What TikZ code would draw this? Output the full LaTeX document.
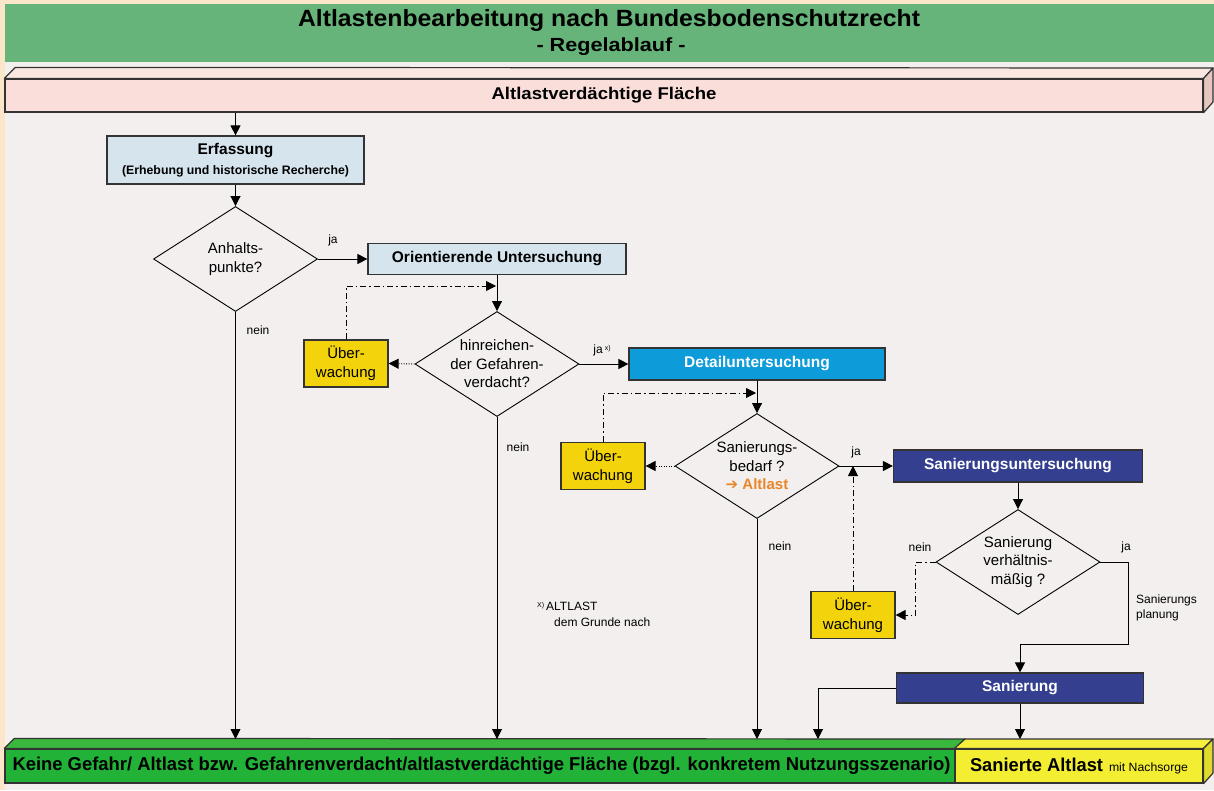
\documentclass[tikz,border=0pt]{standalone}
\usepackage{fontspec}
\setmainfont{Liberation Sans}
\newfontfamily\symfont{DejaVu Sans}
\usetikzlibrary{shapes.geometric,arrows.meta}

% squeeze a piece of text horizontally to a given width (in pt)
\newsavebox\fitbox
\newcommand\fitw[2]{\sbox\fitbox{#2}\pgfmathsetmacro\fitratio{#1/\the\wd\fitbox}\scalebox{\fitratio}[1]{\usebox\fitbox}}

\definecolor{outer}{HTML}{FCE6CA}
\definecolor{titlegreen}{HTML}{66B47A}
\definecolor{bodygray}{HTML}{F2EFEE}
\definecolor{pinkfront}{HTML}{FADEDA}
\definecolor{pinktop}{HTML}{FBE7E2}
\definecolor{pinkside}{HTML}{E6C6BE}
\definecolor{lightblue}{HTML}{D6E4EE}
\definecolor{uegold}{HTML}{F2D30C}
\definecolor{detailblue}{HTML}{0D9BDA}
\definecolor{darkblue}{HTML}{343F8F}
\definecolor{greenfront}{HTML}{22B238}
\definecolor{greentop}{HTML}{3AB83E}
\definecolor{yellowfront}{HTML}{F4EE33}
\definecolor{yellowtop}{HTML}{F6EF3C}
\definecolor{yellowside}{HTML}{E0DA2C}
\definecolor{boxline}{HTML}{333333}
\definecolor{altorange}{HTML}{E8862A}

\tikzset{
  arr/.style={-{Triangle[length=10pt,width=10pt]}, line width=0.9pt, draw=black},
  dd/.style={arr, dash pattern=on 6pt off 3pt on 1.5pt off 3pt},
  dt/.style={arr, dash pattern=on 1pt off 1.5pt},
  face/.style={draw=boxline, line width=1.2pt, line join=round},
  stepbox/.style={draw=boxline, line width=1.2pt, inner sep=0pt},
  bluebox/.style={stepbox, fill=lightblue, font=\bfseries\fontsize{15.5}{20}\selectfont},
  darkbox/.style={stepbox, fill=darkblue, text=white, font=\bfseries\fontsize{15.5}{20}\selectfont},
  uebox/.style={stepbox, fill=uegold, minimum width=84pt, minimum height=47pt, align=center,
                font=\fontsize{15}{19}\selectfont},
  % negative inner sep keeps the text from enlarging the diamond beyond its set size
  dia/.style={diamond, draw=black, line width=0.9pt, minimum width=164pt, minimum height=105pt,
              inner sep=-30pt, align=center, font=\fontsize{15}{18.5}\selectfont},
  lbl/.style={inner sep=0pt, font=\fontsize{12}{14}\selectfont},
}

\begin{document}
\begin{tikzpicture}[x=1pt,y=-1pt]
\useasboundingbox (0,0) rectangle (1214,790);

% background, title band and working area
\fill[outer] (0,0) rectangle (1214,790);
\fill[titlegreen] (5,4) rectangle (1214,62);
\fill[bodygray] (5,62) rectangle (1214,790);

\node[inner sep=0pt] (title) at (609,20)
  {\fitw{622}{\bfseries\fontsize{23.5}{26}\selectfont Altlastenbearbeitung nach Bundesbodenschutzrecht}};
\node[inner sep=0pt] (subtitle) at (611,47)
  {\fitw{149}{\bfseries\fontsize{19}{22}\selectfont - Regelablauf -}};

% top bar (3D slab)
\node[stepbox, fill=pinkfront, minimum width=1198pt, minimum height=33pt] (top) at (604,95.5)
  {\fitw{225}{\bfseries\fontsize{17}{20}\selectfont Altlastverdächtige Fläche}};
\draw[face, fill=pinktop] (top.north west) -- ++(11,-11) -- (1213,68) -- (top.north east) -- cycle;
\draw[face, fill=pinkside] (top.north east) -- (1213,68) -- (1213,102) -- (top.south east) -- cycle;

% bottom bars (3D slab)
\node[stepbox, fill=greenfront, minimum width=950pt, minimum height=34pt] (keine) at (480,766)
  {\hspace{3pt}\fitw{938}{\bfseries\fontsize{18.6}{22}\selectfont Keine Gefahr/ Altlast bzw. Gefahrenverdacht/altlastverdächtige Fläche (bzgl. konkretem Nutzungsszenario)}};
\node[stepbox, fill=yellowfront, minimum width=248pt, minimum height=34pt] (saniert) at (1079,766)
  {\fitw{133}{\bfseries\fontsize{18.6}{22}\selectfont Sanierte Altlast}\hspace{6pt}\fitw{79}{\fontsize{12}{14}\selectfont mit Nachsorge}};
\draw[face, fill=greentop] (keine.north west) -- ++(10,-10) -- (965,739) -- (keine.north east) -- cycle;
\draw[face, fill=yellowtop] (saniert.north west) -- (965,739) -- (1213,739) -- (saniert.north east) -- cycle;
\draw[face, fill=yellowside] (saniert.north east) -- (1213,739) -- (1213,773) -- (saniert.south east) -- cycle;
\coordinate (ktop) at (0,739);

% process boxes
\node[bluebox, minimum width=257pt, minimum height=48pt, align=center,
      font=\bfseries\fontsize{12.3}{20}\selectfont] (erf) at (235.5,160)
  {{\fontsize{15.5}{20}\selectfont Erfassung}\\(Erhebung und historische Recherche)};
\node[bluebox, minimum width=258pt, minimum height=31pt] (orient) at (497,259) {Orientierende Untersuchung};
\node[stepbox, fill=detailblue, text=white, font=\bfseries\fontsize{15.5}{20}\selectfont,
      minimum width=256pt, minimum height=32pt] (detail) at (757,364) {Detailuntersuchung};
\node[darkbox, minimum width=249pt, minimum height=32pt] (sanunt) at (1018,466) {Sanierungsuntersuchung};
\node[darkbox, minimum width=247pt, minimum height=30pt] (san) at (1020,688) {Sanierung};

% decisions
\node[dia] (d1) at (235.5,259) {Anhalts-\\punkte?};
\node[dia] (d2) at (497,364) {hinreichen-\\der Gefahren-\\verdacht?};
\node[dia] (d3) at (757,466) {Sanierungs-\\bedarf ?\\{\color{altorange}\bfseries{\symfont ➔} Altlast}};
\node[dia] (d4) at (1018,562) {Sanierung\\verhältnis-\\mäßig ?};

% monitoring boxes
\node[uebox] (u1) at (346,363.5) {Über-\\wachung};
\node[uebox] (u2) at (603,466) {Über-\\wachung};
\node[uebox] (u3) at (853,615) {Über-\\wachung};

% main flow
\draw[arr] (erf.north |- top.south) -- (erf.north);
\draw[arr] (erf.south) -- (d1.north);
\draw[arr] (d1.east) -- (orient.west);
\draw[arr] (d1.south) -- (d1.south |- ktop);
\draw[arr] (orient.south) -- (d2.north);
\draw[arr] (d2.east) -- (detail.west);
\draw[arr] (d2.south) -- (d2.south |- ktop);
\draw[arr] (detail.south) -- (d3.north);
\draw[arr] (d3.east) -- (sanunt.west);
\draw[arr] (d3.south) -- (d3.south |- ktop);
\draw[arr] (sanunt.south) -- (d4.north);
\draw[arr] (d4.east) -- ++(28,0) -- ++(0,82) -| (san.north);
\coordinate (sanleft) at (818,739);
\draw[arr] (san.west) -| (sanleft);
\draw[arr] (san.south) -- (san.south |- ktop);

% monitoring loops
\coordinate (fb1) at (496,286);
\coordinate (fb2) at (756,393);
\draw[dt] (d2.west) -- (u1.east);
\draw[dd] (u1.north) |- (fb1);
\draw[dt] (d3.west) -- (u2.east);
\draw[dd] (u2.north) |- (fb2);
\draw[dd] (d4.west) -- ++(-20,0) |- (u3.east);
\draw[dd] (u3.north) -- (u3.north |- d3.east);

% branch labels
\node[lbl] (ja1) at (333,240) {ja};
\node[lbl] (nein1) at (258,330) {nein};
\node[lbl] (ja2) at (602,350) {ja\,\raisebox{3pt}{\fontsize{7}{8}\selectfont x)}};
\node[lbl] (nein2) at (518,447) {nein};
\node[lbl] (ja3) at (856,452) {ja};
\node[lbl] (nein3) at (780,546) {nein};
\node[lbl] (nein4) at (920,547) {nein};
\node[lbl] (ja4) at (1126,547) {ja};
\node[lbl, anchor=west, align=left, font=\fontsize{12}{15}\selectfont] (plan) at (1136,608) {Sanierungs\\planung};

% footnote
\node[lbl, anchor=west, align=left, font=\fontsize{12}{16}\selectfont] (foot) at (537,614.5)
  {\raisebox{3pt}{\fontsize{7}{8}\selectfont X)}\,ALTLAST\\\hspace{17pt}dem Grunde nach};

\end{tikzpicture}
\end{document}
